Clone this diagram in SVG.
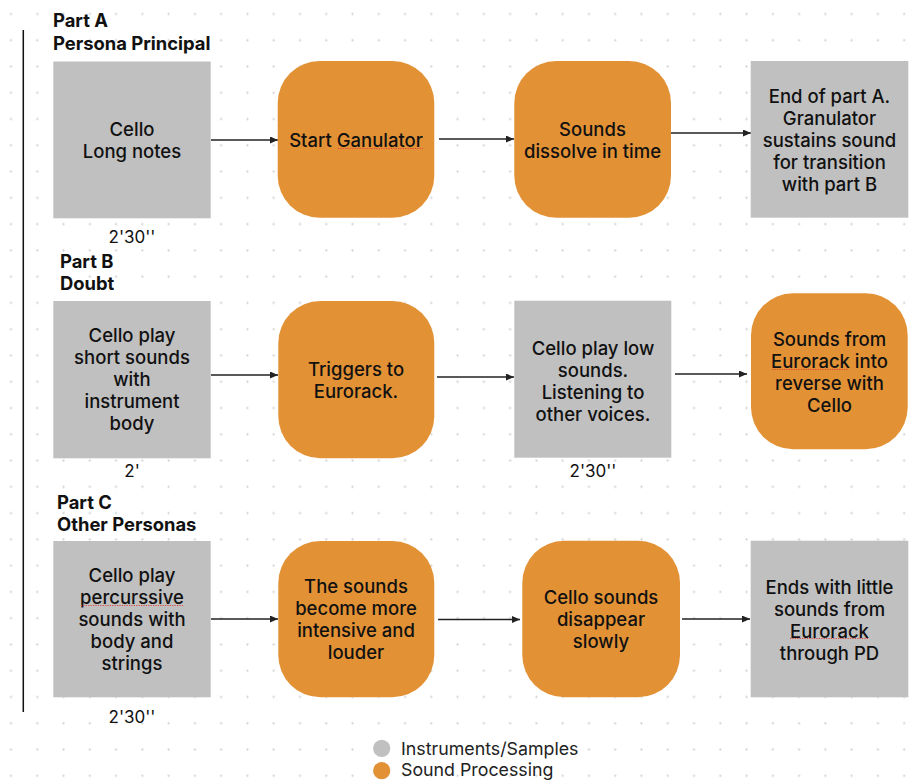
<svg xmlns="http://www.w3.org/2000/svg" width="921" height="780" viewBox="0 0 921 780">
  <style>
    .inst { fill: #c0c0c0; }
    .proc { fill: #e39135; }
    .lbl { font-family: Inter, "Liberation Sans", sans-serif; font-size: 18.5px; font-weight: 500; fill: #111; text-anchor: middle; }
    .head { font-family: Inter, "Liberation Sans", sans-serif; font-size: 18.4px; font-weight: 700; fill: #111; }
    .dur { font-family: Inter, "Liberation Sans", sans-serif; font-size: 17px; font-weight: 400; fill: #111; text-anchor: middle; }
    .leg { font-family: Inter, "Liberation Sans", sans-serif; font-size: 17.8px; font-weight: 400; fill: #222; }
    .edge { stroke: #222; stroke-width: 1.3; fill: none; marker-end: url(#arrow); }
    .spell { stroke: #e0453a; stroke-width: 1.2; stroke-dasharray: 1.2 1.2; fill: none; }
  </style>
  <defs>
    <pattern id="dots" patternUnits="userSpaceOnUse" x="-2.135" y="0.865" width="26.27" height="26.27">
      <circle cx="13.135" cy="13.135" r="1.1" fill="#d2d2d2"/>
    </pattern>
    <marker id="arrow" markerUnits="userSpaceOnUse" markerWidth="9" markerHeight="7" refX="8" refY="3.5" orient="auto">
      <path d="M0,0 L8,3.5 L0,7 z" fill="#222"/>
    </marker>
  </defs>

  <rect width="921" height="780" fill="#ffffff"/>
  <rect width="921" height="780" fill="url(#dots)"/>

  <!-- timeline bar -->
  <line x1="23.3" y1="30" x2="23.3" y2="712" stroke="#111" stroke-width="1.5"/>

  <!-- section headings -->
  <g id="heading-a">
    <text class="head" x="53" y="27">Part A</text>
    <text class="head" x="53" y="50">Persona Principal</text>
  </g>
  <g id="heading-b">
    <text class="head" x="60" y="268">Part B</text>
    <text class="head" x="60" y="290">Doubt</text>
  </g>
  <g id="heading-c">
    <text class="head" x="57" y="509">Part C</text>
    <text class="head" x="57" y="531">Other Personas</text>
  </g>

  <!-- connectors -->
  <g id="connectors">
    <line class="edge" x1="211" y1="140" x2="278" y2="140"/>
    <line class="edge" x1="439" y1="139" x2="514" y2="139"/>
    <line class="edge" x1="671" y1="133" x2="751" y2="133"/>
    <line class="edge" x1="211" y1="375" x2="278" y2="375"/>
    <line class="edge" x1="437" y1="377" x2="514" y2="377"/>
    <line class="edge" x1="675" y1="374" x2="747" y2="374"/>
    <line class="edge" x1="211" y1="619" x2="278" y2="619"/>
    <line class="edge" x1="438" y1="619.5" x2="520" y2="619.5"/>
    <line class="edge" x1="682" y1="619" x2="750" y2="619"/>
  </g>

  <!-- Part A -->
  <g id="a1">
    <rect class="inst" x="53.3" y="61.5" width="157.4" height="156.8"/>
    <text class="lbl" x="132" y="136">Cello</text>
    <text class="lbl" x="132" y="158">Long notes</text>
    <text class="dur" x="132" y="243">2'30''</text>
  </g>
  <g id="a2">
    <rect class="proc" x="277.7" y="61" width="156.6" height="156.7" rx="42"/>
    <text class="lbl" x="356" y="147">Start Ganulator</text>
    <line class="spell" x1="338" y1="148.5" x2="423" y2="148.5"/>
  </g>
  <g id="a3">
    <rect class="proc" x="514.3" y="61" width="156.7" height="156.7" rx="42"/>
    <text class="lbl" x="592.5" y="136">Sounds</text>
    <text class="lbl" x="592.5" y="158">dissolve in time</text>
  </g>
  <g id="a4">
    <rect class="inst" x="750.7" y="61" width="157.6" height="156.7"/>
    <text class="lbl" x="829.5" y="102.5">End of part A.</text>
    <text class="lbl" x="829.5" y="124.5">Granulator</text>
    <text class="lbl" x="829.5" y="146.5">sustains sound</text>
    <text class="lbl" x="829.5" y="168.5">for transition</text>
    <text class="lbl" x="829.5" y="190.5">with part B</text>
  </g>

  <!-- Part B -->
  <g id="b1">
    <rect class="inst" x="53.3" y="301" width="157.4" height="157.3"/>
    <text class="lbl" x="132" y="342">Cello play</text>
    <text class="lbl" x="132" y="364">short sounds</text>
    <text class="lbl" x="132" y="386">with</text>
    <text class="lbl" x="132" y="408">instrument</text>
    <text class="lbl" x="132" y="430">body</text>
    <text class="dur" x="132" y="477">2'</text>
  </g>
  <g id="b2">
    <rect class="proc" x="278.3" y="301" width="156" height="157.3" rx="42"/>
    <text class="lbl" x="356" y="375.5">Triggers to</text>
    <text class="lbl" x="356" y="397.5">Eurorack.</text>
  </g>
  <g id="b3">
    <rect class="inst" x="514.3" y="300.7" width="157" height="157"/>
    <text class="lbl" x="593" y="354.5">Cello play low</text>
    <text class="lbl" x="593" y="376.5">sounds.</text>
    <text class="lbl" x="593" y="398.5">Listening to</text>
    <text class="lbl" x="593" y="420.5">other voices.</text>
    <text class="dur" x="593" y="477">2'30''</text>
  </g>
  <g id="b4">
    <rect class="proc" x="751" y="293.3" width="156.7" height="156" rx="42"/>
    <text class="lbl" x="829.5" y="346">Sounds from</text>
    <text class="lbl" x="829.5" y="368">Eurorack into</text>
    <text class="lbl" x="829.5" y="390">reverse with</text>
    <text class="lbl" x="829.5" y="412">Cello</text>
    <line class="spell" x1="772" y1="369.5" x2="849" y2="369.5"/>
  </g>

  <!-- Part C -->
  <g id="c1">
    <rect class="inst" x="53.3" y="541" width="157.4" height="156.3"/>
    <text class="lbl" x="132" y="582">Cello play</text>
    <text class="lbl" x="132" y="604">percurssive</text>
    <text class="lbl" x="132" y="626">sounds with</text>
    <text class="lbl" x="132" y="648">body and</text>
    <text class="lbl" x="132" y="670">strings</text>
    <line class="spell" x1="81" y1="605.5" x2="184" y2="605.5"/>
    <text class="dur" x="132" y="723">2'30''</text>
  </g>
  <g id="c2">
    <rect class="proc" x="278.3" y="541" width="156" height="156.3" rx="42"/>
    <text class="lbl" x="356" y="593">The sounds</text>
    <text class="lbl" x="356" y="615">become more</text>
    <text class="lbl" x="356" y="637">intensive and</text>
    <text class="lbl" x="356" y="659">louder</text>
  </g>
  <g id="c3">
    <rect class="proc" x="522.3" y="540.7" width="157.7" height="156.6" rx="42"/>
    <text class="lbl" x="601" y="603.5">Cello sounds</text>
    <text class="lbl" x="601" y="625.5">disappear</text>
    <text class="lbl" x="601" y="647.5">slowly</text>
  </g>
  <g id="c4">
    <rect class="inst" x="750.7" y="540.7" width="157.6" height="156.6"/>
    <text class="lbl" x="829.5" y="593.5">Ends with little</text>
    <text class="lbl" x="829.5" y="615.5">sounds from</text>
    <text class="lbl" x="829.5" y="637.5">Eurorack</text>
    <text class="lbl" x="829.5" y="659.5">through PD</text>
    <line class="spell" x1="790" y1="638.5" x2="868" y2="638.5"/>
  </g>

  <!-- legend -->
  <g id="legend">
    <circle class="inst" cx="381.7" cy="748.3" r="8.6"/>
    <text class="leg" x="401" y="754.5">Instruments/Samples</text>
    <circle class="proc" cx="381.7" cy="770.7" r="8.6"/>
    <text class="leg" x="401" y="776">Sound Processing</text>
  </g>
</svg>
